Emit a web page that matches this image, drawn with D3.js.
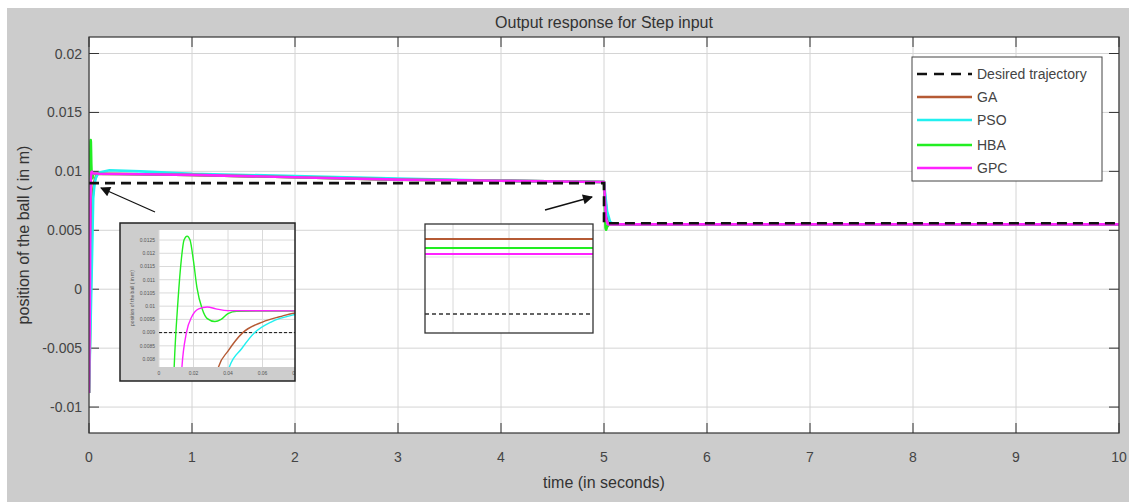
<!DOCTYPE html>
<html>
<head>
<meta charset="utf-8">
<script src="https://cdn.jsdelivr.net/npm/d3@7"></script>
<style>
  html, body { margin: 0; padding: 0; background: #fff; }
  svg { display: block; font-family: "Liberation Sans", Arial, Helvetica, sans-serif; }
</style>
</head>
<body>
<svg id="chart" width="1132" height="503"></svg>
<script>
// ---------------- DATA ----------------
const titleText = "Output response for Step input";
const xLabelText = "time (in seconds)";
const yLabelText = "position of the ball ( in m)";

const xTicks = [0, 1, 2, 3, 4, 5, 6, 7, 8, 9, 10];
const yTicks = [-0.01, -0.005, 0, 0.005, 0.01, 0.015, 0.02];
const yTickLabels = ["-0.01", "-0.005", "0", "0.005", "0.01", "0.015", "0.02"];

const seriesNames = ["Desired trajectory", "GA", "PSO", "HBA", "GPC"];
const seriesColors = ["#111111", "#b55a34", "#22f0f0", "#22ee22", "#ff22ff"];

// [time, position]
const desired = [[0, 0.009], [5, 0.009], [5, 0.0056], [10, 0.0056]];
const gaData = [[0, -0.0088], [0.01, -0.004], [0.02, 0.0015], [0.03, 0.0062], [0.0345, 0.0077], [0.04, 0.0083],
  [0.0486, 0.009], [0.06, 0.0094], [0.07, 0.0096], [0.08, 0.00975], [0.1, 0.0098], [0.5, 0.00975], [1, 0.0097],
  [2, 0.0095], [3, 0.0093], [4, 0.0092], [5, 0.0091], [5.01, 0.0078], [5.03, 0.0062], [5.06, 0.0056], [5.1, 0.0055], [10, 0.0055]];
const psoData = [[0, -0.0088], [0.015, -0.003], [0.03, 0.003], [0.0408, 0.0077], [0.048, 0.0084], [0.0555, 0.009],
  [0.065, 0.0094], [0.08, 0.0097], [0.1, 0.0099], [0.2, 0.0101], [0.5, 0.01], [1, 0.0098], [2, 0.0096], [3, 0.0094],
  [4, 0.0092], [5, 0.0091], [5.01, 0.0082], [5.03, 0.0066], [5.06, 0.0057], [5.1, 0.0055], [10, 0.0055]];
const hbaData = [[0, -0.0088], [0.005, -0.002], [0.0088, 0.0077], [0.011, 0.0102], [0.013, 0.0118], [0.0145, 0.0125],
  [0.0163, 0.01265], [0.018, 0.0125], [0.02, 0.0117], [0.022, 0.0107], [0.025, 0.0099], [0.028, 0.00953],
  [0.0324, 0.00942], [0.036, 0.0095], [0.04, 0.00972], [0.045, 0.00981], [0.08, 0.00982], [0.1, 0.0098],
  [0.5, 0.00975], [1, 0.0097], [2, 0.0095], [3, 0.0093], [4, 0.0092], [5, 0.0091], [5.005, 0.0075],
  [5.015, 0.0052], [5.02, 0.00505], [5.03, 0.0053], [5.05, 0.0055], [10, 0.0055]];
const gpcData = [[0, -0.0088], [0.008, -0.002], [0.0133, 0.0077], [0.0159, 0.009], [0.019, 0.0096], [0.023, 0.0099],
  [0.028, 0.00997], [0.033, 0.0099], [0.04, 0.00983], [0.08, 0.00982], [0.1, 0.0098], [0.5, 0.00975], [1, 0.0097],
  [2, 0.0095], [3, 0.0093], [4, 0.0092], [5, 0.0091], [5.01, 0.0074], [5.02, 0.0059], [5.04, 0.0055], [10, 0.0055]];

// left inset (zoom on start)
const insetXTicks = [0, 0.02, 0.04, 0.06, 0.08];
const insetXTickLabels = ["0", "0.02", "0.04", "0.06", "0.08"];
const insetYTicks = [0.008, 0.0085, 0.009, 0.0095, 0.01, 0.0105, 0.011, 0.0115, 0.012, 0.0125];
const insetYTickLabels = ["0.008", "0.0085", "0.009", "0.0095", "0.01", "0.0105", "0.011", "0.0115", "0.012", "0.0125"];

// right inset (zoom on steady part)
const zoomRTime = [3.95, 4.25];
const zoomRDesired = [0.009, 0.009];
const zoomRGA = [0.00915, 0.00915];
const zoomRHBA = [0.009132, 0.009132];
const zoomRGPC = [0.00912, 0.00912];
const zoomRXGrid = [4.0, 4.1];
const zoomRYGrid = [0.00905, 0.009114, 0.009168];

// ---------------- DRAW ----------------
const svg = d3.select("#chart");
const W = 1132, H = 503;
svg.append("rect").attr("x", 0).attr("y", 0).attr("width", W).attr("height", H).attr("fill", "#fff");
svg.append("rect").attr("x", 7).attr("y", 8).attr("width", 1122).attr("height", 494).attr("fill", "#cccccc");

const P = { left: 89, top: 37, right: 1119, bottom: 433 };
const x = d3.scaleLinear().domain([0, 10]).range([P.left, P.right]);
const y = d3.scaleLinear().domain([-0.0122, 0.0214]).range([P.bottom, P.top]);

svg.append("rect").attr("x", P.left).attr("y", P.top).attr("width", P.right - P.left).attr("height", P.bottom - P.top).attr("fill", "#fff");

// grid
const grid = svg.append("g");
grid.selectAll("line.gx").data(xTicks).join("line")
  .attr("x1", d => x(d)).attr("x2", d => x(d)).attr("y1", P.top).attr("y2", P.bottom)
  .attr("stroke", "#d4d4d4").attr("stroke-width", 1);
grid.selectAll("line.gy").data(yTicks).join("line")
  .attr("y1", d => y(d)).attr("y2", d => y(d)).attr("x1", P.left).attr("x2", P.right)
  .attr("stroke", "#d4d4d4").attr("stroke-width", 1);

// axes with inward ticks
const tickLen = 10;
const axG = svg.append("g").attr("stroke", "#333").attr("stroke-width", 1);
xTicks.forEach(t => {
  axG.append("line").attr("x1", x(t)).attr("x2", x(t)).attr("y1", P.bottom).attr("y2", P.bottom - tickLen);
  axG.append("line").attr("x1", x(t)).attr("x2", x(t)).attr("y1", P.top).attr("y2", P.top + tickLen);
});
yTicks.forEach(t => {
  axG.append("line").attr("y1", y(t)).attr("y2", y(t)).attr("x1", P.left).attr("x2", P.left + tickLen);
  axG.append("line").attr("y1", y(t)).attr("y2", y(t)).attr("x1", P.right).attr("x2", P.right - tickLen);
});

// tick labels
svg.append("g").selectAll("text").data(xTicks).join("text")
  .attr("x", d => x(d)).attr("y", 462).attr("text-anchor", "middle")
  .attr("font-size", 14).attr("fill", "#444").text(d => d);
svg.append("g").selectAll("text").data(yTicks).join("text")
  .attr("x", 82).attr("y", d => y(d) + 5).attr("text-anchor", "end")
  .attr("font-size", 14).attr("fill", "#444").text((d, i) => yTickLabels[i]);

// clip
svg.append("clipPath").attr("id", "plotClip").append("rect")
  .attr("x", P.left).attr("y", P.top).attr("width", P.right - P.left).attr("height", P.bottom - P.top);

const line = d3.line().x(d => x(d[0])).y(d => y(d[1]));
const plot = svg.append("g").attr("clip-path", "url(#plotClip)");
const curves = [gaData, psoData, hbaData, gpcData];
curves.forEach((c, i) => {
  plot.append("path").datum(c).attr("d", line).attr("fill", "none")
    .attr("stroke", seriesColors[i + 1]).attr("stroke-width", 2.6).attr("stroke-linejoin", "round");
});
plot.append("path").datum(desired).attr("d", line).attr("fill", "none")
  .attr("stroke", seriesColors[0]).attr("stroke-width", 2.6).attr("stroke-dasharray", "10,6");

// box
svg.append("rect").attr("x", P.left).attr("y", P.top).attr("width", P.right - P.left).attr("height", P.bottom - P.top)
  .attr("fill", "none").attr("stroke", "#333").attr("stroke-width", 1.2);

// arrow markers
const defs = svg.append("defs");
defs.append("marker").attr("id", "arrowHead").attr("viewBox", "0 0 10 10").attr("refX", 9).attr("refY", 5)
  .attr("markerWidth", 12).attr("markerHeight", 10).attr("markerUnits", "userSpaceOnUse").attr("orient", "auto")
  .append("path").attr("d", "M0,0 L10,5 L0,10 Z").attr("fill", "#111");
svg.append("line").attr("x1", 155).attr("y1", 212).attr("x2", 101).attr("y2", 188)
  .attr("stroke", "#111").attr("stroke-width", 1.3).attr("marker-end", "url(#arrowHead)");
svg.append("line").attr("x1", 545).attr("y1", 210).attr("x2", 592).attr("y2", 197)
  .attr("stroke", "#111").attr("stroke-width", 1.3).attr("marker-end", "url(#arrowHead)");

// ---------- left inset ----------
const IB = { x: 120, y: 223, w: 175, h: 158 };
svg.append("clipPath").attr("id", "insetBoxClip").append("rect")
  .attr("x", IB.x).attr("y", IB.y).attr("width", IB.w).attr("height", IB.h);
const inset = svg.append("g").attr("clip-path", "url(#insetBoxClip)");
inset.append("rect").attr("x", IB.x).attr("y", IB.y).attr("width", IB.w).attr("height", IB.h).attr("fill", "#cdcdcd");
const IP = { left: 159, top: 230, right: 297, bottom: 367 };
const ix = d3.scaleLinear().domain([0, 0.08]).range([IP.left, IP.right]);
const iy = d3.scaleLinear().domain([0.0077, 0.01288]).range([IP.bottom, IP.top]);
inset.append("rect").attr("x", IP.left).attr("y", IP.top).attr("width", IP.right - IP.left).attr("height", IP.bottom - IP.top).attr("fill", "#fff");
inset.selectAll("line.igx").data(insetXTicks).join("line")
  .attr("x1", d => ix(d)).attr("x2", d => ix(d)).attr("y1", IP.top).attr("y2", IP.bottom)
  .attr("stroke", "#dadada").attr("stroke-width", 1);
inset.selectAll("line.igy").data(insetYTicks).join("line")
  .attr("y1", d => iy(d)).attr("y2", d => iy(d)).attr("x1", IP.left).attr("x2", IP.right)
  .attr("stroke", "#dadada").attr("stroke-width", 1);
inset.selectAll("text.ixt").data(insetXTicks).join("text")
  .attr("x", d => ix(d)).attr("y", 375).attr("text-anchor", "middle")
  .attr("font-size", 5).attr("fill", "#555").text((d, i) => insetXTickLabels[i]);
inset.selectAll("text.iyt").data(insetYTicks).join("text")
  .attr("x", 155).attr("y", d => iy(d) + 1.8).attr("text-anchor", "end")
  .attr("font-size", 5).attr("fill", "#555").text((d, i) => insetYTickLabels[i]);
inset.append("text").attr("transform", "translate(134,298) rotate(-90)").attr("text-anchor", "middle")
  .attr("font-size", 5).attr("fill", "#555").text(yLabelText);
svg.append("clipPath").attr("id", "insetPlotClip").append("rect")
  .attr("x", IP.left).attr("y", IP.top).attr("width", IP.right - IP.left).attr("height", IP.bottom - IP.top);
const iplot = inset.append("g").attr("clip-path", "url(#insetPlotClip)");
const iline = d3.line().x(d => ix(d[0])).y(d => iy(d[1])).curve(d3.curveMonotoneX);
iplot.append("path").datum(desired).attr("d", d3.line().x(d => ix(d[0])).y(d => iy(d[1])))
  .attr("fill", "none").attr("stroke", "#111").attr("stroke-width", 1).attr("stroke-dasharray", "3,2");
curves.forEach((c, i) => {
  iplot.append("path").datum(c.filter(p => p[0] <= 0.1)).attr("d", iline).attr("fill", "none")
    .attr("stroke", seriesColors[i + 1]).attr("stroke-width", 1.4);
});
svg.append("rect").attr("x", IB.x).attr("y", IB.y).attr("width", IB.w).attr("height", IB.h)
  .attr("fill", "none").attr("stroke", "#222").attr("stroke-width", 1.5);

// ---------- right inset ----------
const RB = { x: 425, y: 224, w: 168, h: 109 };
const rx = d3.scaleLinear().domain(zoomRTime).range([RB.x, RB.x + RB.w]);
const ry = d3.scaleLinear().domain([0.008962, 0.00918]).range([RB.y + RB.h, RB.y]);
const rg = svg.append("g");
rg.append("rect").attr("x", RB.x).attr("y", RB.y).attr("width", RB.w).attr("height", RB.h).attr("fill", "#fff");
rg.selectAll("line.rgx").data(zoomRXGrid).join("line")
  .attr("x1", d => rx(d)).attr("x2", d => rx(d)).attr("y1", RB.y).attr("y2", RB.y + RB.h)
  .attr("stroke", "#d8d8d8").attr("stroke-width", 1);
rg.selectAll("line.rgy").data(zoomRYGrid).join("line")
  .attr("y1", d => ry(d)).attr("y2", d => ry(d)).attr("x1", RB.x).attr("x2", RB.x + RB.w)
  .attr("stroke", "#e0e0e0").attr("stroke-width", 1);
const rPairs = arr => zoomRTime.map((t, i) => [t, arr[i]]);
const rline = d3.line().x(d => rx(d[0])).y(d => ry(d[1]));
[[zoomRGA, seriesColors[1]], [zoomRHBA, seriesColors[3]], [zoomRGPC, seriesColors[4]]].forEach(([arr, col]) => {
  rg.append("path").datum(rPairs(arr)).attr("d", rline).attr("fill", "none").attr("stroke", col).attr("stroke-width", 2);
});
rg.append("path").datum(rPairs(zoomRDesired)).attr("d", rline).attr("fill", "none")
  .attr("stroke", "#333").attr("stroke-width", 1.3).attr("stroke-dasharray", "4,3");
rg.append("rect").attr("x", RB.x).attr("y", RB.y).attr("width", RB.w).attr("height", RB.h)
  .attr("fill", "none").attr("stroke", "#333").attr("stroke-width", 1.3);

// ---------- legend ----------
const L = { x: 912, y: 57, w: 190, h: 124 };
const lg = svg.append("g");
lg.append("rect").attr("x", L.x).attr("y", L.y).attr("width", L.w).attr("height", L.h)
  .attr("fill", "#fff").attr("stroke", "#444").attr("stroke-width", 1);
const legY = [74, 97, 120, 145, 168];
seriesNames.forEach((name, i) => {
  lg.append("line").attr("x1", 917).attr("x2", 972).attr("y1", legY[i]).attr("y2", legY[i])
    .attr("stroke", seriesColors[i]).attr("stroke-width", 2.6)
    .attr("stroke-dasharray", i === 0 ? "10,7" : null);
  lg.append("text").attr("x", 977).attr("y", legY[i] + 5).attr("font-size", 14).attr("fill", "#444").text(name);
});

// ---------- titles ----------
svg.append("text").attr("x", 604).attr("y", 28).attr("text-anchor", "middle")
  .attr("font-size", 16).attr("fill", "#333").text(titleText);
svg.append("text").attr("x", 604).attr("y", 488).attr("text-anchor", "middle")
  .attr("font-size", 16).attr("fill", "#333").text(xLabelText);
svg.append("text").attr("transform", "translate(29,235) rotate(-90)").attr("text-anchor", "middle")
  .attr("font-size", 16).attr("fill", "#333").text(yLabelText);
</script>
</body>
</html>
